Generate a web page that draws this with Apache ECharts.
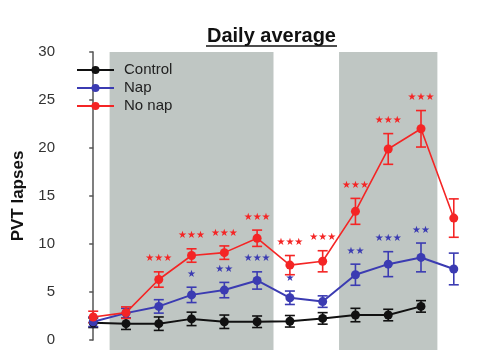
<!DOCTYPE html>
<html>
<head>
<meta charset="utf-8">
<script src="https://cdn.jsdelivr.net/npm/echarts@6/dist/echarts.min.js"></script>
<style>html,body{margin:0;padding:0;background:#fff}#c{width:490px;height:350px}</style>
</head>
<body>
<div id="c"></div>
<script>
// session index (x position of each measurement)
const sessions = [0, 1, 2, 3, 4, 5, 6, 7, 8, 9, 10, 11];
// shaded periods (in session units)
const shadedPeriods = [[0.5, 5.5], [7.5, 10.5]];

const controlMean = [1.8, 1.7, 1.7, 2.2, 1.9, 1.9, 1.95, 2.25, 2.6, 2.6, 3.5];
const controlErr  = [0.5, 0.6, 0.7, 0.7, 0.7, 0.6, 0.6, 0.6, 0.7, 0.6, 0.6];

const napMean = [1.9, 2.8, 3.5, 4.7, 5.2, 6.2, 4.4, 4.0, 6.8, 7.9, 8.6, 7.4];
const napErr  = [0.5, 0.5, 0.7, 0.8, 0.8, 0.9, 0.7, 0.6, 1.1, 1.3, 1.5, 1.65];
const napSig  = ["", "", "", "*", "**", "***", "*", "", "**", "***", "**", ""];

const noNapMean = [2.4, 2.85, 6.3, 8.8, 9.1, 10.6, 7.8, 8.2, 13.4, 19.9, 22.0, 12.7];
const noNapErr  = [0.6, 0.6, 0.8, 0.7, 0.7, 0.85, 1.0, 1.1, 1.35, 1.6, 1.9, 2.0];
const noNapSig  = ["", "", "***", "***", "***", "***", "***", "***", "***", "***", "***", ""];

const yTicks = [0, 5, 10, 15, 20, 25, 30];

const C_BLACK = '#111111', C_BLUE = '#3b3bb2', C_RED = '#f42525';

function pairs(means) { return means.map((v, i) => [sessions[i], v]); }

function errSeries(name, means, errs, sig, color) {
  const data = means.map((v, i) => [sessions[i], v, errs[i]]);
  return {
    type: 'custom', name: name, z: 3,
    encode: { x: 0, y: [1] },
    clip: false,
    renderItem: function (params, api) {
      const x = api.value(0), m = api.value(1), e = api.value(2);
      const top = api.coord([x, m + e]), bot = api.coord([x, m - e]);
      const hw = 5;
      const style = { stroke: color, lineWidth: 1.6 };
      const children = [
        { type: 'line', shape: { x1: top[0], y1: top[1], x2: bot[0], y2: bot[1] }, style: style },
        { type: 'line', shape: { x1: top[0] - hw, y1: top[1], x2: top[0] + hw, y2: top[1] }, style: style },
        { type: 'line', shape: { x1: bot[0] - hw, y1: bot[1], x2: bot[0] + hw, y2: bot[1] }, style: style }
      ];
      const s = sig ? sig[params.dataIndex] : '';
      if (s) {
        children.push({
          type: 'text',
          style: {
            x: top[0], y: top[1] - 13,
            text: s.replace(/\*/g, '\u2605'),
            fill: color, font: '10px "DejaVu Sans"',
            align: 'center', verticalAlign: 'middle'
          }
        });
      }
      return { type: 'group', children: children };
    },
    data: data,
    silent: true
  };
}

function lineSeries(name, means, color, width, z) {
  return {
    type: 'line', name: name, z: z,
    data: pairs(means),
    symbol: 'circle', symbolSize: 9,
    lineStyle: { color: color, width: width },
    itemStyle: { color: color },
    emphasis: { disabled: true },
    animation: false
  };
}

const chart = echarts.init(document.getElementById('c'), null, { renderer: 'canvas' });
chart.setOption({
  animation: false,
  backgroundColor: '#ffffff',
  title: {
    text: 'Daily average',
    left: 202, top: 21,
    textStyle: { fontFamily: 'Liberation Sans', fontWeight: 'bold', fontSize: 20, color: '#111' }
  },
  graphic: [{
    type: 'line', shape: { x1: 206, y1: 46, x2: 337, y2: 46 },
    style: { stroke: '#111', lineWidth: 1.6 }, z: 100
  }],
  legend: {
    left: 71, top: 56, orient: 'vertical',
    itemWidth: 37, itemHeight: 10, itemGap: 0,
    textStyle: { fontFamily: 'Liberation Sans', fontSize: 15, color: '#222', lineHeight: 18, padding: [0, 0, 0, 5] },
    data: ['Control', 'Nap', 'No nap']
  },
  grid: { left: 67, right: 10, top: 52, bottom: 10, containLabel: false },
  xAxis: { type: 'value', min: -0.8, max: 11.8, show: false },
  yAxis: {
    type: 'value', min: 0, max: 30, interval: 5,
    name: 'PVT lapses', nameLocation: 'middle', nameGap: 40, nameRotate: 90,
    nameTextStyle: { fontFamily: 'Liberation Sans', fontWeight: 'bold', fontSize: 17, color: '#111' },
    axisLine: { show: true, lineStyle: { color: '#555', width: 1.5 } },
    axisTick: { show: true, inside: false, length: 4, lineStyle: { color: '#555', width: 1.5 } },
    axisLabel: {
      margin: 12, fontFamily: 'Liberation Sans', fontSize: 15, color: '#333',
      formatter: function (v) { return yTicks.indexOf(v) >= 0 ? String(v) : ''; }
    },
    splitLine: { show: false }
  },
  series: [
    {
      type: 'custom', name: 'shade', z: 0, clip: false, silent: true,
      encode: { x: [0, 1] },
      data: shadedPeriods,
      renderItem: function (params, api) {
        const a = api.coord([api.value(0), 30]);
        const b = api.coord([api.value(1), 0]);
        return {
          type: 'rect',
          shape: { x: a[0], y: a[1], width: b[0] - a[0], height: api.getHeight() - a[1] },
          style: { fill: '#bfc6c3' }
        };
      }
    },
    lineSeries('Control', controlMean, C_BLACK, 2, 4),
    errSeries('Control', controlMean, controlErr, null, C_BLACK),
    lineSeries('Nap', napMean, C_BLUE, 2, 5),
    errSeries('Nap', napMean, napErr, napSig, C_BLUE),
    lineSeries('No nap', noNapMean, C_RED, 1.6, 6),
    errSeries('No nap', noNapMean, noNapErr, noNapSig, C_RED)
  ]
});
</script>
</body>
</html>
